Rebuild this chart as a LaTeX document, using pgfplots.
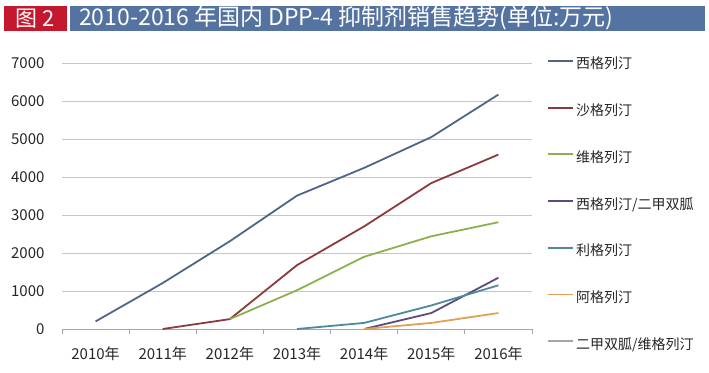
\documentclass[border=0pt]{standalone}
\usepackage{pgfplots}
\pgfplotsset{compat=1.18}
\usepackage{fontspec}
\setmainfont{Noto Sans CJK SC}
\definecolor{cXi}{HTML}{4E6587}
\definecolor{cSha}{HTML}{8B3A3E}
\definecolor{cWei}{HTML}{8DB04F}
\definecolor{cXiEr}{HTML}{5B4B7E}
\definecolor{cLi}{HTML}{4E8A9B}
\definecolor{cA}{HTML}{E0A055}
\definecolor{cErWei}{HTML}{A5A5A5}
\definecolor{titleRed}{HTML}{C4182F}
\definecolor{titleBlue}{HTML}{5473A0}
\begin{document}
\begin{tikzpicture}[x=1pt,y=1pt]
\useasboundingbox (0,0) rectangle (709,372);
\fill[titleRed] (4,341) rectangle (67,366);
\fill[titleBlue] (70,341) rectangle (705,366);
\node[text=white, font=\fontsize{22}{22}\selectfont] at (35.5,353.5) {图 2};
\node[text=white, anchor=west, font=\fontsize{23}{23}\selectfont, inner sep=0pt] at (79,353.5) {2010-2016 年国内 DPP-4 抑制剂销售趋势(单位:万元)};
\begin{axis}[
  at={(62pt,43pt)}, anchor=south west,
  scale only axis, width=470pt, height=266pt,
  xmin=0, xmax=7, ymin=0, ymax=7000,
  xtick={0.5,1.5,2.5,3.5,4.5,5.5,6.5},
  xticklabels={2010年,2011年,2012年,2013年,2014年,2015年,2016年},
  minor xtick={0,1,2,3,4,5,6,7},
  ytick={0,1000,2000,3000,4000,5000,6000,7000},
  major tick length=0pt, minor tick length=5pt, tick align=outside,
  minor tick style={draw=gray!70, line width=0.8pt},
  separate axis lines,
  axis x line*=bottom, axis y line*=left,
  x axis line style={draw=gray!70, line width=0.8pt, -},
  y axis line style={draw=none},
  ymajorgrids, grid style={draw=gray!45, line width=0.8pt},
  /pgf/number format/assume math mode=true,
  scaled y ticks=false,
  yticklabel style={/pgf/number format/1000 sep={}},
  tick label style={font=\fontsize{15}{15}\selectfont, text=black!85},
  xticklabel style={yshift=-14pt},
  yticklabel style={xshift=-14pt},
  legend style={draw=none, fill=none, at={(1.032,0.466)}, anchor=west,
    inner sep=0pt, row sep=32.7pt, column sep=2pt,
    nodes={inner sep=0pt, text height=11pt, text depth=3pt},
    font=\fontsize{14}{14}\selectfont, text=black!85},
  legend cell align=left,
  legend image code/.code={\draw[#1] (0pt,4pt) -- (25pt,4pt);},
  every axis plot/.append style={line width=1.8pt},
]
\addplot[cXi] coordinates {(0.5,200)(1.5,1210)(2.5,2310)(3.5,3510)(4.5,4240)(5.5,5050)(6.5,6170)};
\addlegendentry{西格列汀}
\addplot[cSha] coordinates {(1.5,0)(2.5,260)(3.5,1680)(4.5,2700)(5.5,3840)(6.5,4590)};
\addlegendentry{沙格列汀}
\addplot[cWei] coordinates {(2.5,260)(3.5,1020)(4.5,1900)(5.5,2440)(6.5,2810)};
\addlegendentry{维格列汀}
\addplot[cXiEr] coordinates {(4.5,0)(5.5,420)(6.5,1350)};
\addlegendentry{西格列汀/二甲双胍}
\addplot[cLi] coordinates {(3.5,0)(4.5,160)(5.5,620)(6.5,1150)};
\addlegendentry{利格列汀}
\addplot[cA] coordinates {(4.5,0)(5.5,160)(6.5,420)};
\addlegendentry{阿格列汀}
\addlegendimage{cErWei}
\addlegendentry{二甲双胍/维格列汀}
\end{axis}
\end{tikzpicture}
\end{document}
